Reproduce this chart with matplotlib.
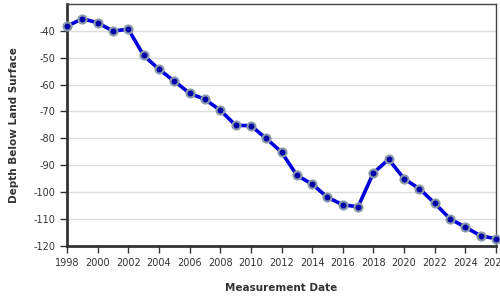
import matplotlib.pyplot as plt

years = list(range(1998, 2027))
depth = [-38.3, -35.5, -37.0, -40.1, -39.4, -49.1, -54.3, -58.7, -63.2, -65.5,
         -69.5, -75.1, -75.3, -80.0, -85.1, -93.7, -97.0, -101.9, -104.7, -105.4,
         -92.8, -87.8, -95.0, -98.7, -104.1, -109.9, -113.0, -116.2, -117.3]

x_ticks = list(range(1998, 2027, 2))
y_ticks = list(range(-120, -39, 10))

fig = plt.figure(figsize=(5, 3), dpi=100)
ax = fig.add_axes([0.134, 0.18, 0.858, 0.807])

ax.plot(years, depth, color='#0000dd', linewidth=2.6, marker='o', markersize=5.8,
        markerfacecolor='#0000aa', markeredgecolor='#8a9aa8', markeredgewidth=1.5,
        zorder=3, clip_on=False)

ax.set_xlim(1998, 2026)
ax.set_ylim(-120, -30)
ax.set_xticks(x_ticks)
ax.set_yticks(y_ticks)
ax.set_xticklabels([str(y) for y in x_ticks], fontsize=7, color='#333333')
ax.set_yticklabels([str(y) for y in y_ticks], fontsize=7, color='#333333')
ax.tick_params(axis='both', length=5, width=1, color='#333333')
ax.grid(axis='y', color='#dddddd', linewidth=1)
ax.set_axisbelow(True)

for side in ['left', 'bottom']:
    ax.spines[side].set_linewidth(2)
    ax.spines[side].set_color('#333333')
for side in ['top', 'right']:
    ax.spines[side].set_linewidth(1)
    ax.spines[side].set_color('#444444')

ax.set_xlabel("Measurement Date", fontsize=7.5, fontweight='bold', color='#333333', labelpad=11)
ax.set_ylabel("Depth Below Land Surface", fontsize=7.5, fontweight='bold', color='#333333', labelpad=10)

fig.savefig("out.png", dpi=100)
